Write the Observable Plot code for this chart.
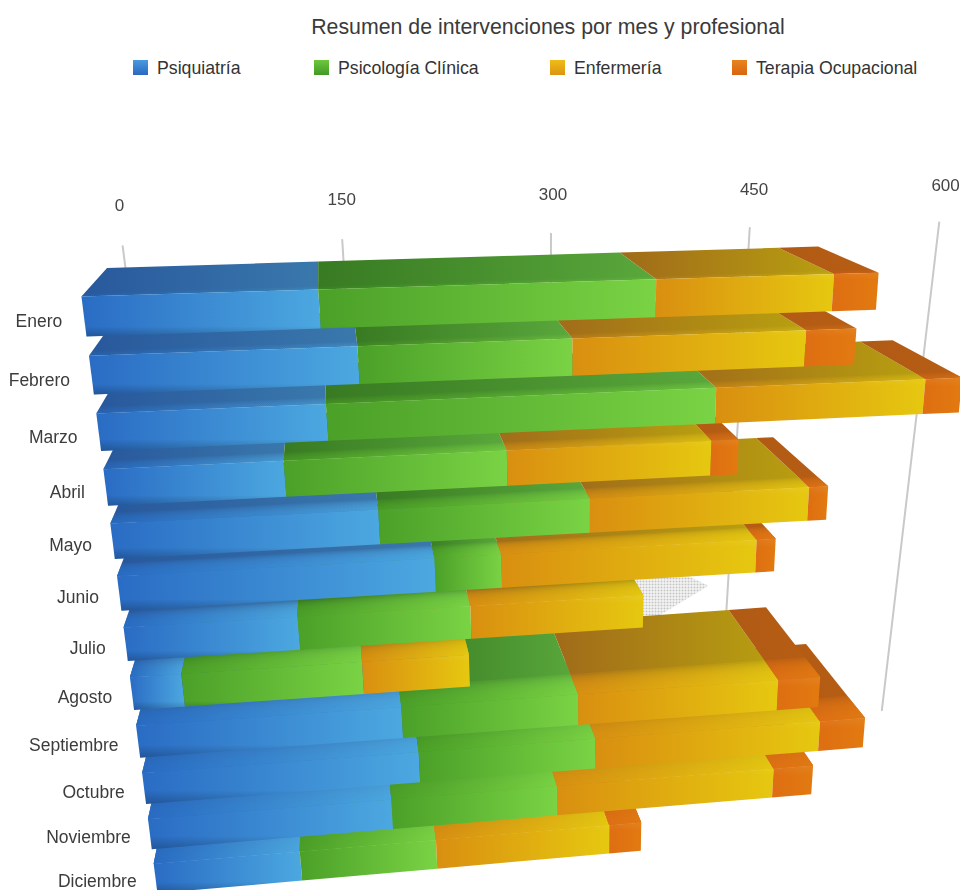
<!DOCTYPE html>
<html lang="es">
<head>
<meta charset="utf-8">
<script src="https://cdn.jsdelivr.net/npm/d3@7"></script>
<script src="https://cdn.jsdelivr.net/npm/@observablehq/plot@0.6"></script>
<style>
  html, body { margin: 0; padding: 0; background: #fff; overflow: hidden; }
  body { width: 960px; height: 890px; font-family: "Liberation Sans", Arial, sans-serif; color: #333; }
  #head { position: relative; height: 100px; }
  #title { position: absolute; left: 0; width: 1096px; top: 15px; text-align: center; font-size: 21.3px; color: #3a3a3a; }
  .key { position: absolute; top: 57px; font-size: 17.7px; line-height: 22px; color: #333; white-space: nowrap; }
  .key i { position: absolute; top: 3px; width: 15px; height: 15px; }
  #chart svg { display: block; filter: blur(0.6px); }
</style>
</head>
<body>
<div id="head"><div id="title">Resumen de intervenciones por mes y profesional</div></div>
<div id="chart"></div>
<script>
const months = ["Enero","Febrero","Marzo","Abril","Mayo","Junio","Julio","Agosto","Septiembre","Octubre","Noviembre","Diciembre"];
const psiquiatria = [135,156,135,107,163,197,108,32,171,181,161,97];
const psicologia  = [204,131,244,138,135,43,111,115,119,121,114,93];
const enfermeria  = [113,149,139,132,146,170,115,70,140,160,155,122];
const terapia     = [29,33,25,18,13,13,0,0,30,33,29,23];
const ticks = [0,150,300,450,600];
const seriesNames = ["Psiquiatría","Psicología Clínica","Enfermería","Terapia Ocupacional"];
const seriesValues = [psiquiatria, psicologia, enfermeria, terapia];
const frontStops = [["#2a6cc4","#4ca8e0"],["#4ba028","#7ad344"],["#d98f10","#e6c810"],["#de6e12","#e27a10"]];
const topStops   = [["#28589c","#3a78ac"],["#387a22","#5aa83c"],["#a06a1a","#b8a010"],["#b05a14","#b85e14"]];
const swatchStops = [["#4a9ae0","#2a68c0"],["#6cc83c","#429a26"],["#eebc18","#dc9410"],["#e88420","#d86410"]];
const legendLeft = [133, 314, 550, 732];

// Perspective camera of the 3-D chart: a plane homography for the value/row plane
// plus a vanishing point for depth.
const cam = {x0:86, A:1.79, B:8.8, y0:336, C:-0.003, D:64, a:0.00017, b:0.015, vx:318, vy:31};
const barDepth = 0.108, wallDepth = 0.165, wallShift = 3, faceHeight = 0.67, headHeight = 100, WALL = 100;

function place(v, r, z = 0) {
  let shift = 0;
  if (r > WALL / 2) { r -= WALL; z = wallDepth; shift = wallShift; }
  else if (z === wallDepth) shift = wallShift;
  const w = 1 + cam.a * v + cam.b * r;
  const X = (cam.x0 + cam.A * v + cam.B * r) / w;
  const Y = (cam.y0 + cam.C * v + cam.D * r) / w;
  return [X + z * (cam.vx - X) + shift, Y + z * (cam.vy - Y) - headHeight];
}
const camera = d3.geoTransform({
  point(v, r, z) { const p = place(v, r, z || 0); this.stream.point(p[0], p[1]); }
});

const poly = (ring, fill, opacity = 1) => ({type:"Feature", properties:{fill, opacity}, geometry:{type:"Polygon", coordinates:[[...ring, ring[0]]]}});

const faces = [];
// faint shadow behind the short July bar
const julio = months.indexOf("Julio");
const julioEnd = d3.sum(seriesValues, s => s[julio]);
faces.push(poly([[julioEnd-4, julio-faceHeight, barDepth],[julioEnd+52, julio-0.45, barDepth*0.25],[julioEnd+8, julio-0.18, 0],[julioEnd-4, julio-0.2, 0]], "url(#dots)"));
const layers = 12;
for (let i = months.length - 1; i >= 0; --i) {
  let s = 0;
  const spans = seriesValues.map((vals, j) => { const a = s; s += vals[i]; return {j, a, e: s}; }).filter(d => d.e > d.a);
  const t = i - faceHeight;
  const blend = Math.min(0.95, 0.25 + 0.14 * i);
  const reach = barDepth * (0.12 + 0.02 * i);
  const alpha = 1 - Math.pow(1 - blend, 1 / layers);
  for (const {j, a, e} of spans) {
    faces.push(poly([[a,t,0],[e,t,0],[e,t,barDepth],[a,t,barDepth]], `url(#top${j})`));
    for (let k = 0; k < layers; ++k) {
      const z1 = reach * (k + 1) / layers;
      faces.push(poly([[a,t,0],[e,t,0],[e,t,z1],[a,t,z1]], `url(#front${j})`, alpha));
    }
  }
  for (const {j, a, e} of spans) {
    faces.push(poly([[a,t],[e,t],[e,i],[a,i]], `url(#front${j})`));
  }
  faces.push(poly([[0,t],[s,t],[s,i],[0,i]], "url(#shade)"));
}

const gridLines = ticks.map(v => ({type:"LineString", coordinates:[[v,-0.8,wallDepth],[v,11.6,wallDepth]]}));

const defs = () => {
  const d = d3.create("svg:defs");
  const grad = (id, stops) => {
    const g = d.append("linearGradient").attr("id", id);
    g.append("stop").attr("offset", "0").attr("stop-color", stops[0]);
    g.append("stop").attr("offset", "1").attr("stop-color", stops[1]);
  };
  frontStops.forEach((c, j) => grad(`front${j}`, c));
  topStops.forEach((c, j) => grad(`top${j}`, c));
  const sh = d.append("linearGradient").attr("id","shade").attr("x1",0).attr("x2",0).attr("y1",0).attr("y2",1);
  [[0,"#fff",0.06],[0.12,"#fff",0],[0.84,"#000",0],[1,"#000",0.22]].forEach(([o,c,a]) =>
    sh.append("stop").attr("offset",o).attr("stop-color",c).attr("stop-opacity",a));
  const p = d.append("pattern").attr("id","dots").attr("width",3).attr("height",3).attr("patternUnits","userSpaceOnUse");
  p.append("rect").attr("width",2).attr("height",2).attr("fill","#c4c4c4");
  return d.node();
};

const plot = Plot.plot({
  width: 960,
  height: 790,
  margin: 0,
  projection: camera,
  marks: [
    defs,
    Plot.geo(gridLines, {stroke:"#c9c9c9", strokeWidth:2, fill:"none"}),
    Plot.geo(faces, {fill:{value:d => d.properties.fill, scale:null}, fillOpacity:{value:d => d.properties.opacity, scale:null}, stroke:"none"}),
    Plot.text(ticks, {x:d => d, y:() => WALL - 1.6, text:d => String(d), dx:2, fontSize:17, fill:"#444", fontFamily:"Liberation Sans, Arial, sans-serif"}),
    Plot.text(months, {x:() => -12.5, y:(d,i) => i - 0.26 - 0.004 * i, text:d => d, textAnchor:"end", fontSize:17.5, fill:"#3c3c3c", fontFamily:"Liberation Sans, Arial, sans-serif"})
  ]
});
document.getElementById("chart").append(plot);

const head = d3.select("#head");
seriesNames.forEach((name, j) => {
  const k = head.append("div").attr("class","key").style("left", `${legendLeft[j]+24}px`).text(name);
  k.append("i").style("left","-24px").style("background",`linear-gradient(${swatchStops[j][0]},${swatchStops[j][1]})`);
});
</script>
</body>
</html>
